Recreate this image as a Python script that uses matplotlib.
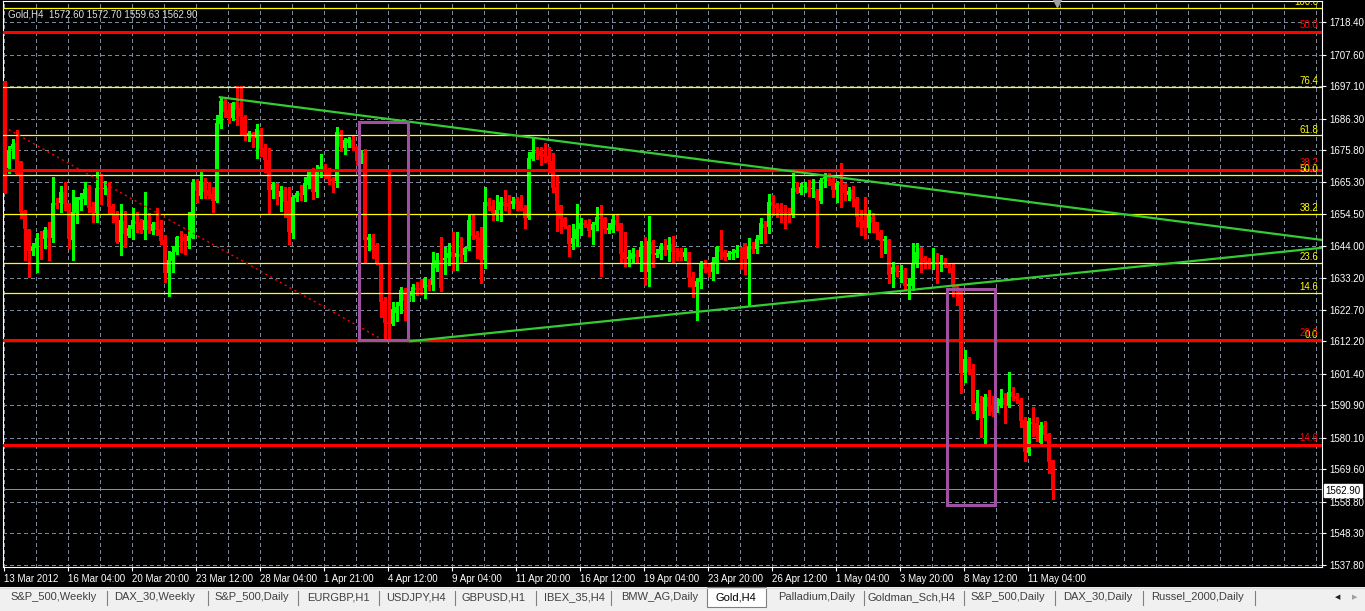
import numpy as np
import matplotlib
matplotlib.use("Agg")
import matplotlib.pyplot as plt
from matplotlib.patches import Rectangle

# Gold H4 candles (one value per bar, left to right)
opens = [
    1698.8, 1669.8, 1676.1, 1678.1, 1672.1, 1655.5, 1649.5, 1642.2, 1643.2, 1646.5,
    1646.2, 1649.2, 1646.5, 1658.2, 1658.2, 1661.8, 1658.2, 1645.9, 1654.9, 1659.2,
    1659.5, 1663.2, 1656.9, 1654.9, 1663.2, 1662.8, 1663.2, 1657.2, 1654.2, 1645.2,
    1652.2, 1647.2, 1649.5, 1652.2, 1651.9, 1649.2, 1652.5, 1648.9, 1651.9, 1649.5,
    1645.9, 1634.9, 1638.9, 1641.9, 1646.9, 1646.9, 1645.5, 1646.5, 1665.2, 1660.5,
    1665.2, 1662.5, 1661.2, 1658.8, 1684.5, 1692.1, 1689.1, 1686.5, 1691.8, 1689.8,
    1686.8, 1680.5, 1681.5, 1679.8, 1682.5, 1676.5, 1672.5, 1662.5, 1664.8, 1660.2,
    1662.5, 1658.8, 1648.2, 1659.8, 1661.5, 1660.8, 1664.2, 1668.5, 1661.8, 1668.5,
    1670.5, 1668.8, 1666.2, 1665.5, 1681.8, 1676.5, 1678.1, 1679.1, 1676.8, 1672.1,
    1674.8, 1645.9, 1646.5, 1643.2, 1637.9, 1625.6, 1618.6, 1617.9, 1621.6, 1623.9,
    1629.2, 1626.9, 1627.2, 1629.9, 1629.9, 1629.9, 1630.9, 1630.9, 1636.6, 1639.2,
    1639.2, 1639.9, 1641.9, 1640.2, 1641.2, 1640.9, 1642.9, 1652.5, 1647.5, 1646.9,
    1639.2, 1658.5, 1657.2, 1654.5, 1655.9, 1658.5, 1658.2, 1657.9, 1659.5, 1658.8,
    1656.5, 1653.2, 1672.8, 1675.1, 1675.5, 1674.5, 1673.8, 1672.1, 1663.5, 1657.5,
    1653.2, 1650.5, 1644.5, 1646.2, 1649.5, 1651.5, 1651.2, 1649.2, 1650.9, 1653.5,
    1653.2, 1649.2, 1649.2, 1652.5, 1651.5, 1641.9, 1639.6, 1639.6, 1641.2, 1640.2,
    1643.5, 1635.2, 1645.2, 1640.9, 1641.2, 1643.9, 1642.6, 1644.5, 1642.2, 1642.2,
    1640.2, 1641.9, 1633.6, 1630.2, 1631.9, 1637.9, 1636.9, 1635.2, 1638.2, 1643.5,
    1641.9, 1640.2, 1641.2, 1641.6, 1642.6, 1644.9, 1639.6, 1643.9, 1642.9, 1645.9,
    1651.2, 1650.2, 1658.5, 1657.5, 1656.2, 1655.2, 1655.2, 1654.5, 1663.2, 1661.5,
    1663.5, 1663.5, 1662.8, 1662.2, 1658.8, 1666.2, 1666.8, 1666.2, 1662.5, 1664.8,
    1664.2, 1660.8, 1662.5, 1659.5, 1653.5, 1652.5, 1649.9, 1653.5, 1651.9, 1648.5,
    1645.5, 1645.9, 1634.6, 1636.9, 1635.2, 1635.9, 1630.6, 1630.6, 1637.9, 1643.2,
    1639.9, 1638.9, 1637.9, 1638.6, 1638.2, 1638.6, 1637.6, 1636.6, 1630.6, 1629.6,
    1601.6, 1606.3, 1603.0, 1589.0, 1591.7, 1586.7, 1593.7, 1591.0, 1589.0, 1591.0,
    1593.4, 1591.0, 1595.3, 1594.0, 1592.7, 1586.0, 1575.0, 1585.4, 1585.0, 1578.4,
    1584.4, 1581.4, 1572.6]

closes = [
    1661.5, 1675.8, 1677.8, 1667.8, 1655.2, 1649.5, 1642.2, 1643.5, 1646.5, 1646.2,
    1649.2, 1646.5, 1658.2, 1657.5, 1661.8, 1657.9, 1646.2, 1655.2, 1660.2, 1660.2,
    1662.8, 1656.5, 1654.9, 1663.2, 1662.8, 1662.9, 1656.9, 1654.2, 1645.2, 1652.5,
    1647.9, 1649.9, 1652.5, 1651.2, 1649.2, 1652.5, 1649.2, 1651.2, 1649.2, 1645.5,
    1634.9, 1639.2, 1641.9, 1646.9, 1646.5, 1645.5, 1647.2, 1665.2, 1662.2, 1665.5,
    1661.8, 1660.5, 1658.8, 1684.8, 1692.1, 1688.5, 1686.5, 1691.4, 1689.1, 1686.8,
    1680.5, 1681.5, 1679.8, 1682.8, 1676.1, 1672.5, 1662.5, 1664.5, 1659.5, 1662.2,
    1658.5, 1648.5, 1660.2, 1661.5, 1660.5, 1664.8, 1668.5, 1661.8, 1668.5, 1670.2,
    1668.5, 1666.2, 1665.5, 1681.8, 1676.8, 1679.1, 1679.5, 1676.5, 1672.1, 1674.5,
    1645.9, 1646.9, 1642.6, 1637.9, 1625.3, 1618.3, 1617.9, 1622.9, 1623.6, 1629.2,
    1625.6, 1628.2, 1630.2, 1629.2, 1629.2, 1632.9, 1630.2, 1637.9, 1639.2, 1629.9,
    1639.9, 1641.6, 1640.2, 1641.6, 1640.2, 1643.2, 1652.5, 1647.2, 1646.2, 1639.2,
    1658.5, 1657.2, 1654.9, 1655.9, 1658.5, 1657.2, 1656.9, 1658.8, 1657.9, 1655.9,
    1653.2, 1673.1, 1675.1, 1674.8, 1673.8, 1673.5, 1671.8, 1663.2, 1655.5, 1652.9,
    1650.2, 1644.5, 1646.5, 1649.5, 1651.5, 1650.9, 1648.9, 1651.2, 1653.5, 1652.9,
    1649.5, 1649.9, 1652.9, 1650.9, 1641.2, 1639.6, 1640.2, 1641.6, 1640.2, 1643.5,
    1635.2, 1645.5, 1641.2, 1641.6, 1643.9, 1642.6, 1644.2, 1641.9, 1641.9, 1640.2,
    1641.9, 1633.2, 1630.2, 1632.2, 1638.2, 1636.2, 1635.2, 1638.6, 1643.5, 1641.9,
    1640.2, 1641.6, 1641.9, 1642.6, 1642.2, 1639.6, 1643.5, 1642.9, 1646.2, 1651.5,
    1649.9, 1658.5, 1657.2, 1656.5, 1654.9, 1654.9, 1654.8, 1663.2, 1661.8, 1663.5,
    1663.8, 1661.8, 1663.2, 1659.2, 1665.8, 1666.8, 1665.5, 1662.5, 1664.8, 1664.2,
    1661.5, 1662.2, 1659.5, 1653.5, 1651.9, 1649.9, 1654.5, 1651.5, 1648.2, 1645.5,
    1646.2, 1634.2, 1636.9, 1635.2, 1635.6, 1630.6, 1631.2, 1637.9, 1641.9, 1639.6,
    1638.6, 1637.9, 1638.6, 1637.9, 1638.6, 1637.6, 1636.6, 1630.6, 1629.6, 1601.6,
    1606.3, 1602.0, 1589.0, 1591.7, 1586.7, 1593.7, 1590.4, 1588.7, 1591.0, 1593.0,
    1591.0, 1595.3, 1593.7, 1593.0, 1585.7, 1575.4, 1585.7, 1584.7, 1580.7, 1584.4,
    1581.0, 1572.0, 1562.9]

highs = [
    1698.8, 1677.1, 1679.5, 1682.5, 1672.1, 1655.9, 1649.5, 1644.9, 1648.2, 1648.9,
    1650.2, 1651.9, 1666.8, 1659.8, 1663.8, 1665.2, 1658.2, 1662.5, 1660.2, 1661.5,
    1665.2, 1664.2, 1658.5, 1669.2, 1667.8, 1665.5, 1665.2, 1657.9, 1655.5, 1657.9,
    1655.5, 1650.9, 1656.5, 1655.2, 1652.9, 1661.8, 1654.9, 1651.9, 1656.5, 1652.5,
    1647.5, 1642.2, 1643.9, 1647.2, 1648.9, 1647.9, 1655.2, 1666.2, 1666.2, 1669.2,
    1666.5, 1665.2, 1663.5, 1687.5, 1693.1, 1693.4, 1691.4, 1691.8, 1697.1, 1697.1,
    1687.5, 1682.1, 1681.8, 1684.5, 1683.1, 1677.8, 1676.5, 1665.2, 1664.8, 1663.8,
    1663.5, 1663.5, 1660.8, 1662.2, 1664.2, 1666.8, 1669.5, 1669.8, 1670.8, 1674.5,
    1671.2, 1669.8, 1666.8, 1683.5, 1682.5, 1679.8, 1680.1, 1680.5, 1677.1, 1675.8,
    1676.1, 1647.9, 1647.9, 1644.9, 1638.2, 1626.9, 1669.5, 1625.3, 1625.3, 1630.3,
    1629.9, 1628.9, 1631.2, 1631.9, 1632.9, 1633.6, 1632.9, 1641.9, 1641.6, 1646.9,
    1643.5, 1644.9, 1648.5, 1648.5, 1646.9, 1643.5, 1654.2, 1654.2, 1648.9, 1650.2,
    1663.5, 1659.8, 1659.2, 1660.8, 1660.2, 1662.5, 1660.8, 1660.2, 1660.2, 1660.8,
    1657.5, 1675.1, 1679.8, 1676.8, 1676.8, 1678.1, 1676.8, 1674.8, 1667.2, 1657.5,
    1653.5, 1650.9, 1651.2, 1657.9, 1653.2, 1652.5, 1652.9, 1651.9, 1656.9, 1657.5,
    1653.5, 1651.5, 1654.2, 1654.2, 1651.5, 1648.5, 1642.6, 1643.2, 1642.6, 1645.5,
    1646.9, 1653.9, 1645.9, 1642.9, 1644.9, 1646.2, 1646.9, 1647.2, 1643.2, 1643.2,
    1643.2, 1641.9, 1635.2, 1633.2, 1638.9, 1639.2, 1638.2, 1640.2, 1643.9, 1649.2,
    1642.6, 1642.2, 1642.9, 1644.2, 1643.5, 1644.9, 1646.5, 1645.2, 1647.5, 1653.2,
    1652.2, 1661.2, 1660.8, 1658.2, 1658.2, 1657.5, 1656.5, 1668.2, 1665.2, 1664.8,
    1665.2, 1665.8, 1666.2, 1662.8, 1666.5, 1668.2, 1668.2, 1666.5, 1665.5, 1671.5,
    1664.8, 1663.5, 1663.8, 1660.2, 1655.9, 1660.2, 1655.9, 1654.9, 1651.9, 1649.2,
    1647.2, 1646.2, 1638.6, 1637.6, 1637.6, 1636.6, 1633.2, 1644.9, 1644.9, 1643.5,
    1640.6, 1639.9, 1643.2, 1641.6, 1640.9, 1639.9, 1638.2, 1638.2, 1630.6, 1629.9,
    1609.3, 1607.0, 1604.6, 1596.0, 1594.0, 1594.7, 1596.0, 1594.0, 1593.4, 1596.3,
    1595.0, 1602.0, 1597.0, 1595.0, 1593.3, 1587.0, 1586.7, 1590.3, 1587.0, 1585.4,
    1585.7, 1581.7, 1572.7]

lows = [
    1661.5, 1668.2, 1673.1, 1667.5, 1653.2, 1639.2, 1633.6, 1640.9, 1635.2, 1639.6,
    1643.2, 1639.2, 1645.2, 1656.5, 1655.2, 1655.9, 1643.2, 1639.2, 1651.5, 1655.9,
    1657.9, 1655.2, 1651.9, 1651.9, 1657.9, 1661.2, 1654.9, 1651.9, 1644.9, 1640.9,
    1643.5, 1646.9, 1646.2, 1648.5, 1648.2, 1646.2, 1648.2, 1647.9, 1647.5, 1644.5,
    1631.9, 1627.3, 1635.2, 1641.2, 1641.9, 1641.2, 1643.2, 1646.5, 1658.5, 1659.8,
    1659.8, 1659.8, 1655.2, 1658.5, 1683.1, 1686.8, 1684.8, 1685.8, 1684.1, 1680.8,
    1679.1, 1678.8, 1676.8, 1673.1, 1673.8, 1668.5, 1654.9, 1659.8, 1657.9, 1655.5,
    1653.5, 1644.5, 1646.5, 1658.8, 1659.2, 1658.8, 1663.2, 1659.5, 1660.2, 1666.8,
    1666.5, 1664.5, 1661.8, 1663.5, 1675.5, 1674.5, 1676.8, 1675.8, 1670.8, 1671.5,
    1638.2, 1642.6, 1639.9, 1637.9, 1620.3, 1613.3, 1613.3, 1617.6, 1618.9, 1621.6,
    1619.3, 1625.6, 1625.6, 1627.6, 1627.9, 1626.6, 1629.2, 1629.2, 1635.6, 1628.9,
    1634.6, 1637.6, 1635.9, 1635.9, 1638.6, 1638.9, 1642.6, 1646.2, 1639.9, 1631.6,
    1636.6, 1655.9, 1652.5, 1652.5, 1652.2, 1655.9, 1654.9, 1656.5, 1655.9, 1655.9,
    1649.9, 1652.9, 1672.5, 1672.8, 1670.8, 1671.8, 1668.5, 1661.8, 1648.9, 1648.2,
    1649.9, 1640.6, 1642.9, 1643.9, 1647.5, 1650.2, 1647.2, 1644.5, 1649.2, 1633.9,
    1648.2, 1648.2, 1648.5, 1649.2, 1638.6, 1637.2, 1637.2, 1638.2, 1638.6, 1635.6,
    1630.9, 1630.6, 1636.9, 1640.2, 1639.6, 1640.9, 1638.9, 1638.2, 1639.2, 1639.2,
    1639.2, 1630.6, 1626.9, 1619.3, 1629.9, 1635.2, 1633.9, 1632.6, 1634.9, 1639.6,
    1639.2, 1639.6, 1639.6, 1640.2, 1636.2, 1634.6, 1624.3, 1641.6, 1641.6, 1644.9,
    1644.9, 1648.2, 1654.2, 1653.5, 1651.9, 1649.9, 1651.9, 1653.5, 1661.5, 1661.2,
    1661.8, 1660.5, 1660.2, 1643.5, 1658.2, 1663.5, 1664.2, 1660.2, 1658.5, 1656.9,
    1659.2, 1659.2, 1657.2, 1650.5, 1647.5, 1646.5, 1648.5, 1648.5, 1646.2, 1640.2,
    1641.6, 1631.6, 1630.2, 1633.9, 1631.9, 1629.2, 1626.3, 1629.2, 1636.9, 1635.2,
    1636.6, 1636.6, 1636.2, 1631.6, 1635.6, 1636.9, 1635.2, 1627.3, 1624.3, 1595.0,
    1598.7, 1601.3, 1588.3, 1586.3, 1580.4, 1578.4, 1587.7, 1587.3, 1588.7, 1590.4,
    1585.0, 1590.4, 1592.7, 1591.7, 1583.7, 1572.4, 1574.4, 1580.7, 1579.0, 1577.4,
    1579.4, 1568.4, 1559.63]

date_labels = ["13 Mar 2012", "16 Mar 04:00", "20 Mar 20:00", "23 Mar 12:00", "28 Mar 04:00",
               "1 Apr 21:00", "4 Apr 12:00", "9 Apr 04:00", "11 Apr 20:00", "16 Apr 12:00",
               "19 Apr 04:00", "23 Apr 20:00", "26 Apr 12:00", "1 May 04:00", "3 May 20:00",
               "8 May 12:00", "11 May 04:00"]
price_ticks = [1718.40, 1707.60, 1697.10, 1686.30, 1675.80, 1665.30, 1654.50, 1644.00, 1633.20,
               1622.70, 1612.20, 1601.40, 1590.90, 1580.10, 1569.60, 1558.80, 1548.30, 1537.80]

# fibonacci retracements (price at 0% and 100%) and shown levels
yellow_fib = (1612.2, 1723.0)
yellow_levels = [0.0, 14.6, 23.6, 38.2, 50.0, 61.8, 76.4, 100.0]
red_fib = (1521.0, 1909.3)
red_levels = [14.6, 23.6, 38.2, 50.0]
fib_trend = [(-53.0, 1723.0), (94.6, 1612.6)]

# drawn objects: (bar, price) anchors
upper_trend = [(53.8, 1693.4), (329.3, 1645.9)]
lower_trend = [(101.3, 1612.2), (329.3, 1643.3)]
boxes = [(88.6, 100.8, 1612.6, 1685.1), (235.6, 247.6, 1557.7, 1629.6)]

last_price = 1562.90
tabs = ["S&P_500,Weekly", "DAX_30,Weekly", "S&P_500,Daily", "EURGBP,H1", "USDJPY,H4",
        "GBPUSD,H1", "IBEX_35,H4", "BMW_AG,Daily", "Gold,H4", "Palladium,Daily",
        "Goldman_Sch,H4", "S&P_500,Daily", "DAX_30,Daily", "Russel_2000,Daily"]
tab_centers = [54, 155, 252, 338, 416, 494, 574, 660, 736, 817, 911, 1008, 1098, 1198]
tab_seps = [107, 208, 298, 379, 455, 536, 611, 864, 964, 1055, 1143, 1255]

W, H = 1365, 611
FONT = "Liberation Sans"
GRID = "#7a8899"


def fx(x):
    return x / W


def fy(y):
    return 1 - y / H


fig = plt.figure(figsize=(W / 100, H / 100), dpi=100, facecolor="black")
ax = fig.add_axes([fx(3), fy(567), (1322 - 3) / W, (567 - 1) / H])
ax.set_facecolor("black")
ax.set_xlim(-0.42, 329.3)
ax.set_ylim(1537.1, 1725.4)
for s in ax.spines.values():
    s.set_color("white")
    s.set_linewidth(0.8)

# grid
for k in range(42):
    ax.axvline(8 * k - 0.2, color=GRID, lw=0.75, ls=(0, (3, 3)), zorder=1, antialiased=False)
for p in price_ticks:
    ax.axhline(p, color=GRID, lw=0.75, ls=(0, (3, 3)), zorder=1, antialiased=False)
ax.axhline(last_price, color="#8090a0", lw=0.75, zorder=1)

# candles
o = np.array(opens)
c = np.array(closes)
h = np.array(highs)
l = np.array(lows)
bars = np.arange(len(c))
col = np.where(c >= o, "#00ff00", "#ff0000")
ax.vlines(bars, l, h, colors=col, lw=0.8, zorder=3, antialiased=False)
ax.bar(bars, np.maximum(np.abs(c - o), 0.35), bottom=np.minimum(o, c), width=0.75,
       color=col, lw=0, zorder=3, antialiased=False)

# fibonacci levels
lo, hi = yellow_fib
for lv in yellow_levels:
    p = lo + lv / 100 * (hi - lo)
    ax.axhline(p, color="#ffff00", lw=0.9, zorder=4)
    ax.text(328.3, p + 0.3, f"{lv:.1f}", color="#ffff00", fontsize=7, family=FONT,
            ha="right", va="bottom", zorder=6, clip_on=True)
lo, hi = red_fib
for lv in red_levels:
    p = lo + lv / 100 * (hi - lo)
    ax.axhline(p, color="#ff0000", lw=2.2, zorder=4)
    ax.text(328.3, p + 0.6, f"{lv:.1f}", color="#ff0000", fontsize=7, family=FONT,
            ha="right", va="bottom", zorder=6, clip_on=True)
ax.plot(*zip(*fib_trend), color="#ff0000", lw=1, ls=(0, (1.5, 2.5)), zorder=4)

# trend lines and boxes
ax.plot(*zip(*upper_trend), color="#33cc33", lw=1.6, zorder=5)
ax.plot(*zip(*lower_trend), color="#33cc33", lw=1.6, zorder=5)
for x0, x1, p0, p1 in boxes:
    ax.add_patch(Rectangle((x0, p0), x1 - x0, p1 - p0, fill=False, ec="#a050a0", lw=2.2, zorder=6))

# chart shift marker
ax.plot([263.1], [1724.6], marker="v", ms=6, color="#a0a0a0", clip_on=False, zorder=7)

# axes ticks
ax.yaxis.tick_right()
ax.set_yticks(price_ticks, [f"{p:.2f}" for p in price_ticks])
ax.set_xticks([16 * k - 0.2 for k in range(len(date_labels))], date_labels)
ax.tick_params(axis="both", colors="white", length=3, width=0.8, labelsize=7, pad=2)
for t in ax.get_xticklabels() + ax.get_yticklabels():
    t.set_family(FONT)
for t in ax.get_xticklabels():
    t.set_ha("left")

ax.text(0.004, 0.985, "Gold,H4  1572.60 1572.70 1559.63 1562.90", transform=ax.transAxes,
        color="#e0e0e0", fontsize=7, family=FONT, ha="left", va="top", zorder=8)

# last price box
fig.text(fx(1325), fy(490.5), f"{last_price:.2f}", color="black", fontsize=7, family=FONT,
         ha="left", va="center",
         bbox=dict(boxstyle="square,pad=0.15", fc="white", ec="white"))

# terminal tab bar
fig.patches.append(Rectangle((0, 0), 1, fy(587), transform=fig.transFigure,
                             fc="#f0f0f0", ec="none"))
fig.add_artist(plt.Line2D([0, 1], [fy(587.5)] * 2, transform=fig.transFigure,
                          color="#d8d8d8", lw=0.8))
fig.patches.append(Rectangle((fx(707), fy(607)), fx(59), 20 / H, transform=fig.transFigure,
                             fc="white", ec="#808080", lw=0.8))
for sx in tab_seps:
    fig.add_artist(plt.Line2D([fx(sx)] * 2, [fy(605), fy(591)], transform=fig.transFigure,
                              color="#808080", lw=0.8))
for name, cx in zip(tabs, tab_centers):
    fig.text(fx(cx), fy(597), name, color="black" if name == "Gold,H4" else "#404040",
             fontsize=8, family=FONT, ha="center", va="center")
fig.text(fx(1338), fy(597), "\u25c0", color="#202020", fontsize=5, ha="center", va="center")
fig.text(fx(1355), fy(597), "\u25b6", color="#a0a0a0", fontsize=5, ha="center", va="center")

fig.savefig("out.png", dpi=100, facecolor="black")
